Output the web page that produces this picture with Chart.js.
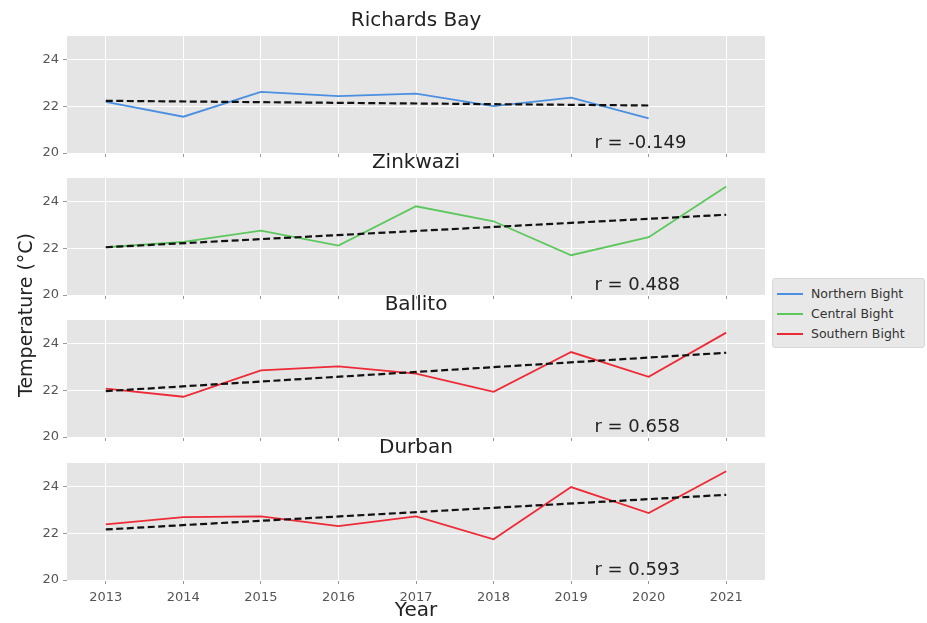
<!DOCTYPE html>
<html>
<head>
<meta charset="utf-8">
<script src="https://cdn.jsdelivr.net/npm/chart.js@4"></script>
<style>
  html, body { margin:0; padding:0; background:#fff; }
  body { width:927px; height:623px; position:relative; overflow:hidden; font-family:"DejaVu Sans", sans-serif; }
  .cv { position:absolute; left:0; }
  #ylab { position:absolute; left:25px; top:315px; transform:translate(-50%,-50%) rotate(-90deg); font-size:19px; color:#222; white-space:nowrap; }
  #legend { position:absolute; left:772px; top:278px; width:153px; height:70px; background:#e8e8e8; border:1px solid #d8d8d8; border-radius:3px; box-sizing:border-box; font-size:12.5px; color:#333; }
  .li { position:absolute; left:4px; height:20px; line-height:20px; white-space:nowrap; }
  .sw { display:inline-block; width:26px; height:2px; vertical-align:middle; margin-right:8px; margin-top:-2px; }
</style>
</head>
<body>
<canvas id="c1" class="cv"></canvas>
<canvas id="c2" class="cv"></canvas>
<canvas id="c3" class="cv"></canvas>
<canvas id="c4" class="cv"></canvas>
<div id="ylab">Temperature (°C)</div>
<div id="legend"></div>
<script>
// ---- data ----
const years = [2013, 2014, 2015, 2016, 2017, 2018, 2019, 2020, 2021];
const stations = ["Richards Bay", "Zinkwazi", "Ballito", "Durban"];
const regions = ["Northern Bight", "Central Bight", "Southern Bight"];
const richardsBay = [22.18, 21.55, 22.61, 22.43, 22.54, 22.00, 22.37, 21.48];
const zinkwazi    = [22.04, 22.27, 22.75, 22.11, 23.79, 23.15, 21.70, 22.47, 24.64];
const ballito     = [22.07, 21.72, 22.85, 23.02, 22.71, 21.93, 23.63, 22.57, 24.46];
const durban      = [22.38, 22.69, 22.72, 22.30, 22.72, 21.74, 23.97, 22.86, 24.65];
const trendStart  = [22.23, 22.04, 21.96, 22.16];
const trendEnd    = [22.03, 23.43, 23.60, 23.64];
const rValues     = ["r = -0.149", "r = 0.488", "r = 0.658", "r = 0.593"];
const yTicks = [20, 22, 24];

const colors = ["#4a8fe0", "#5cc85c", "#ee2a36"];
const series = [richardsBay, zinkwazi, ballito, durban];
const regionOf = [0, 1, 2, 2];

// legend
const lg = document.getElementById('legend');
regions.forEach((r, i) => {
  const d = document.createElement('div');
  d.className = 'li';
  d.style.top = (5 + i * 20) + 'px';
  d.innerHTML = '<span class="sw" style="background:' + colors[i] + '"></span>' + r;
  lg.appendChild(d);
});

const bgPlugin = {
  id: 'bg',
  beforeDraw(chart) {
    const a = chart.chartArea, ctx = chart.ctx;
    ctx.save();
    ctx.fillStyle = '#e5e5e5';
    ctx.fillRect(a.left, a.top, a.right - a.left, a.bottom - a.top);
    ctx.restore();
  }
};
const rPlugin = {
  id: 'rtext',
  afterDatasetsDraw(chart, args, opts) {
    const ctx = chart.ctx;
    const x = chart.scales.x.getPixelForValue(2019.3);
    const y = chart.scales.y.getPixelForValue(20.4);
    ctx.save();
    ctx.font = '18px "DejaVu Sans"';
    ctx.fillStyle = '#222';
    ctx.textAlign = 'left';
    ctx.textBaseline = 'middle';
    ctx.fillText(opts.text, x, y);
    ctx.restore();
  }
};

const plotTops = [36, 178, 320, 463];
const plotH = 117;
Chart.defaults.font.family = '"DejaVu Sans", sans-serif';

stations.forEach((name, k) => {
  const isLast = k === 3;
  const vals = series[k];
  const n = vals.length;
  const canvas = document.getElementById('c' + (k + 1));
  const top = plotTops[k] - 36;
  const xh = isLast ? 43 : 6;
  const H = 36 + plotH + xh;
  canvas.style.top = top + 'px';
  canvas.width = 766; canvas.height = H;
  canvas.style.width = '766px'; canvas.style.height = H + 'px';
  const lastYear = years[n - 1];
  new Chart(canvas, {
    type: 'line',
    data: {
      datasets: [
        {
          label: 'trend',
          data: [{x: years[0], y: trendStart[k]}, {x: lastYear, y: trendEnd[k]}],
          borderColor: '#111', borderWidth: 2.2, borderDash: [7, 3.5],
          pointRadius: 0, fill: false, tension: 0
        },
        {
          label: regions[regionOf[k]],
          data: vals.map((v, i) => ({x: years[i], y: v})),
          borderColor: colors[regionOf[k]], borderWidth: 1.8,
          pointRadius: 0, fill: false, tension: 0
        }
      ]
    },
    options: {
      responsive: false, animation: false,
      layout: { padding: { top: 0, right: 1, bottom: 0, left: 0 } },
      plugins: {
        legend: { display: false },
        tooltip: { enabled: false },
        title: { display: true, fullSize: false, text: name, color: '#222', font: { size: 20, weight: 'normal', lineHeight: 1.2 }, padding: { top: 9, bottom: 3 } },
        rtext: { text: rValues[k] }
      },
      scales: {
        x: {
          type: 'linear', min: 2012.5, max: 2021.5,
          afterBuildTicks: s => { s.ticks = years.map(v => ({value: v})); },
          afterFit: s => { s.height = xh; s.paddingLeft = 0; s.paddingRight = 0; },
          grid: { color: '#ffffff', lineWidth: 1, tickLength: 4, tickColor: '#999' },
          border: { display: false },
          ticks: { display: isLast, color: '#555', font: { size: 13 }, padding: 6, maxRotation: 0, autoSkip: false, callback: v => String(v) },
          title: { display: isLast, text: 'Year', color: '#222', font: { size: 20 }, padding: { top: 0, bottom: 0 } }
        },
        y: {
          min: 20, max: 25,
          afterBuildTicks: s => { s.ticks = yTicks.map(v => ({value: v})); },
          afterFit: s => { s.width = 67; s.paddingTop = 0; s.paddingBottom = 0; },
          grid: { color: '#ffffff', lineWidth: 1, tickLength: 4, tickColor: '#999' },
          border: { display: false },
          ticks: { color: '#555', font: { size: 13 }, padding: 4, callback: v => String(v) }
        }
      }
    },
    plugins: [bgPlugin, rPlugin]
  });
});
</script>
</body>
</html>
